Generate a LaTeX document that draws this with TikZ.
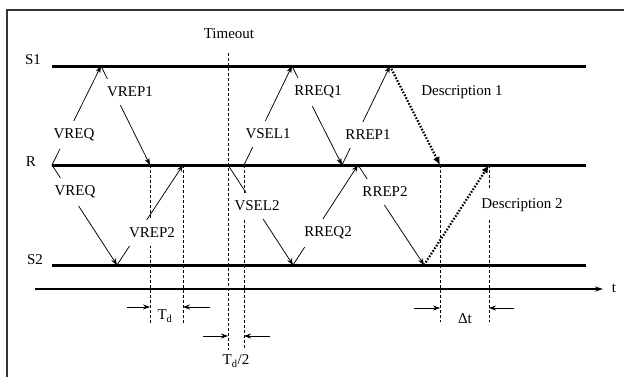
\documentclass[tikz,border=0pt]{standalone}
\usepackage{fontspec}
\setmainfont{Liberation Serif}
\usetikzlibrary{arrows.meta}
\begin{document}
\begin{tikzpicture}[x=1pt,y=-1pt,
  every node/.style={font=\fontsize{15}{17}\selectfont, inner sep=0pt},
  track/.style={line width=3pt},
  frameline/.style={line width=1.6pt, draw=black!80},
  msg/.style={line width=0.75pt,-{Stealth[length=7pt,width=5pt]}},
  lab/.style={fill=white, inner xsep=3pt, inner ysep=8pt},
  guide/.style={line width=0.8pt, dash pattern=on 3pt off 2pt},
  desc/.style={line width=2.2pt, dash pattern=on 1.6pt off 1.6pt, -{Latex[length=8pt,width=7pt]}},
  dim/.style={line width=0.75pt,-{Stealth[length=7pt,width=5pt]}}
]
\useasboundingbox (0,0) rectangle (624,376);
% frame
\coordinate (fa) at (7,380);
\coordinate (fb) at (7,10);
\coordinate (fc) at (630,10);
\draw[frameline] (fa) -- (fb) -- (fc);

% tracks
\coordinate (S1L) at (52,66);  \coordinate (S1R) at (586,66);
\coordinate (RL)  at (52,165); \coordinate (RR)  at (586,165);
\coordinate (S2L) at (52,265); \coordinate (S2R) at (586,265);
\draw[track] (S1L) -- (S1R);
\draw[track] (RL) -- (RR);
\draw[track] (S2L) -- (S2R);
\node (S1lab) at (33,60) {S1};
\node (Rlab) at (31,162) {R};
\node (S2lab) at (35,260) {S2};

% time axis
\coordinate (tA) at (35,289);
\coordinate (tB) at (603,289);
\draw[line width=1.4pt,-{Stealth[length=8pt,width=5pt]}] (tA) -- (tB);
\node (tlab) at (614,288) {t};

% event points
\coordinate (R0) at (52,165);
\coordinate (S1a) at (101,66);
\coordinate (Ra) at (150,165);
\coordinate (S2a) at (117,265);
\coordinate (Rb) at (183,165);
\coordinate (Rc) at (228,165);
\coordinate (Rd) at (244,165);
\coordinate (S1b) at (292,66);
\coordinate (S2b) at (293,265);
\coordinate (Re) at (342,165);
\coordinate (S1c) at (390,66);
\coordinate (Rf) at (358,165);
\coordinate (S2c) at (424,265);
\coordinate (Rg) at (440,165);
\coordinate (Rh) at (489,165);

% dashed guides
\coordinate (g1t) at (228,53);  \coordinate (g1b) at (228,350);
\coordinate (g2b) at (244,350);
\coordinate (g3b) at (150,323);
\coordinate (g4b) at (183,323);
\coordinate (g5b) at (440,322);
\coordinate (g6b) at (489,322);
\draw[guide] (g1t) -- (g1b);
\draw[guide] (Rd) -- (g2b);
\draw[guide] (Ra) -- (g3b);
\draw[guide] (Rb) -- (g4b);
\draw[guide] (Rg) -- (g5b);
\draw[guide] (Rh) -- (g6b);
\node (timeout) at (229,34) {Timeout};

% messages
\draw[msg] (R0) -- (S1a);
\draw[msg] (S1a) -- (Ra);
\draw[msg] (R0) -- (S2a);
\draw[msg] (S2a) -- (Rb);
\draw[msg] (Rd) -- (S1b);
\draw[msg] (Rc) -- (S2b);
\draw[msg] (S1b) -- (Re);
\draw[msg] (Re) -- (S1c);
\draw[msg] (S2b) -- (Rf);
\draw[msg] (Rf) -- (S2c);
\draw[desc] (S1c) -- (Rg);
\draw[desc] (S2c) -- (Rh);

% labels
\node[lab] (l1) at (74,135) {VREQ};
\node[lab] (l2) at (130,92) {VREP1};
\node[lab] (l3) at (75,192) {VREQ};
\node[lab] (l4) at (152,233) {VREP2};
\node[lab] (l5) at (268,134) {VSEL1};
\node[lab] (l6) at (257,206) {VSEL2};
\node[lab] (l7) at (318,92) {RREQ1};
\node[lab] (l8) at (368,135) {RREP1};
\node[lab] (l9) at (328,233) {RREQ2};
\node[lab] (l10) at (385,192) {RREP2};
\node[lab] (d1) at (462,92) {Description 1};
\node[lab] (d2) at (522,205) {Description 2};

% dimensions
\coordinate (m1a) at (127,307); \coordinate (m1b) at (150,307);
\coordinate (m1c) at (210,307); \coordinate (m1d) at (183,307);
\draw[dim] (m1a) -- (m1b);
\draw[dim] (m1c) -- (m1d);
\node (Td) at (165,316) {T\textsubscript{d}};
\coordinate (m2a) at (203,336); \coordinate (m2b) at (228,336);
\coordinate (m2c) at (270,336); \coordinate (m2d) at (244,336);
\draw[dim] (m2a) -- (m2b);
\draw[dim] (m2c) -- (m2d);
\node (Td2) at (236,361) {T\textsubscript{d}/2};
\coordinate (m3a) at (414,308); \coordinate (m3b) at (440,308);
\coordinate (m3c) at (514,308); \coordinate (m3d) at (489,308);
\draw[dim] (m3a) -- (m3b);
\draw[dim] (m3c) -- (m3d);
\node (dt) at (465,319) {Δt};
\end{tikzpicture}
\end{document}
